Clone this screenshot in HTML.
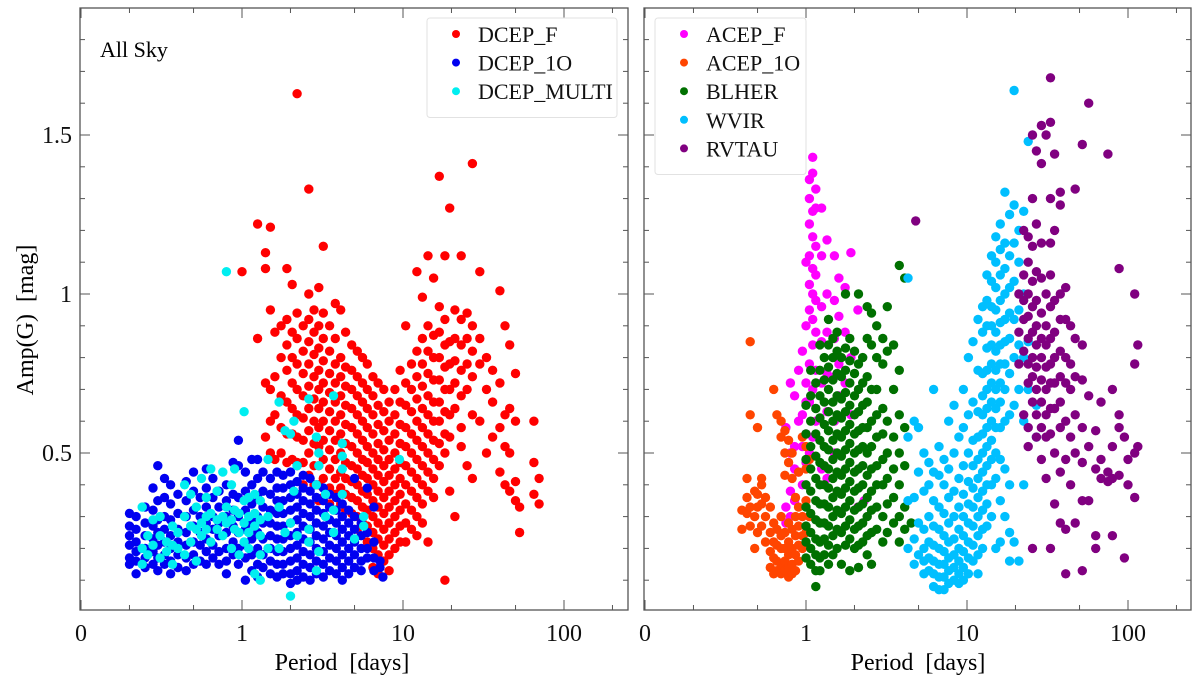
<!DOCTYPE html>
<html><head><meta charset="utf-8"><style>
html,body{margin:0;padding:0;background:#fff;}
svg{display:block;font-family:"Liberation Serif",serif;}
text{white-space:pre;}
</style></head><body>
<svg id="chart" width="1200" height="680" viewBox="0 0 1200 680">
  <rect x="0" y="0" width="1200" height="680" fill="#fff"/>
  <g id="leftPanel"></g>
  <g id="rightPanel"></g>
  <text x="100" y="57" font-size="22">All Sky</text>
  <text transform="translate(33,320) rotate(-90)" text-anchor="middle" font-size="24">Amp(G)  [mag]</text>
  <text x="342" y="670" text-anchor="middle" font-size="24">Period  [days]</text>
  <text x="918" y="670" text-anchor="middle" font-size="24">Period  [days]</text>
</svg>
<script>
// ---- data: columns of [period, [amplitudes...]] ----
const xTickValues = [0.1, 1, 10, 100];
const xTickLabels = ["0", "1", "10", "100"];
const yTickValues = [0.5, 1, 1.5];
const yTickLabels = ["0.5", "1", "1.5"];

const dcepF = [[1.0,[1.07]],[1.25,[1.22,0.86]],[1.4,[1.13,1.08,0.72,0.55]],[1.5,[1.21,0.95,0.7,0.6,0.5]],[1.6,[0.88,0.74,0.62,0.48]],[1.75,[0.9,0.8,0.68,0.58,0.5]],[1.9,[1.08,0.92,0.84,0.76,0.66,0.56,0.47]],[2.05,[1.03,0.88,0.8,0.72,0.64,0.56,0.48]],[2.2,[1.63,0.94,0.86,0.78,0.7,0.62,0.55,0.47]],[2.4,[0.9,0.82,0.75,0.68,0.61,0.54,0.47,0.4]],[2.6,[1.33,1.0,0.92,0.85,0.78,0.71,0.64,0.57,0.5,0.43]],[2.8,[0.95,0.88,0.81,0.74,0.67,0.6,0.53,0.46,0.4]],[3.0,[1.02,0.9,0.83,0.76,0.7,0.64,0.58,0.52,0.46,0.4,0.35]],[3.2,[1.15,0.94,0.86,0.79,0.72,0.66,0.6,0.54,0.48,0.42,0.36]],[3.5,[0.9,0.82,0.75,0.69,0.63,0.57,0.51,0.45,0.39,0.34]],[3.8,[0.97,0.86,0.78,0.72,0.66,0.6,0.54,0.48,0.42,0.37,0.32]],[4.1,[0.95,0.8,0.74,0.68,0.62,0.56,0.5,0.44,0.39,0.34]],[4.4,[0.88,0.77,0.71,0.65,0.59,0.53,0.47,0.42,0.37,0.32]],[4.8,[0.84,0.76,0.7,0.64,0.58,0.52,0.46,0.41,0.36,0.31]],[5.2,[0.82,0.74,0.68,0.62,0.56,0.5,0.45,0.4,0.35,0.3,0.26]],[5.6,[0.8,0.72,0.66,0.6,0.54,0.48,0.43,0.38,0.33,0.28]],[6.0,[0.78,0.7,0.64,0.58,0.52,0.47,0.42,0.37,0.32,0.27,0.22]],[6.5,[0.74,0.68,0.62,0.56,0.5,0.45,0.4,0.35,0.3,0.25,0.2,0.14]],[7.0,[0.72,0.65,0.59,0.53,0.48,0.43,0.38,0.33,0.28,0.23,0.18,0.12]],[7.6,[0.7,0.63,0.57,0.51,0.46,0.41,0.36,0.31,0.26,0.21,0.16]],[8.2,[0.66,0.6,0.54,0.48,0.43,0.38,0.33,0.28,0.23,0.18,0.13]],[8.9,[0.7,0.62,0.56,0.5,0.45,0.4,0.35,0.3,0.25,0.2]],[9.6,[0.76,0.66,0.59,0.53,0.47,0.42,0.37,0.32,0.27,0.22]],[10.4,[0.9,0.72,0.65,0.58,0.52,0.46,0.4,0.34,0.28,0.22]],[11.3,[0.78,0.7,0.63,0.56,0.5,0.44,0.38,0.32,0.26]],[12.2,[1.07,0.82,0.74,0.67,0.6,0.54,0.48,0.42,0.36,0.3,0.24]],[13.2,[0.99,0.86,0.78,0.71,0.64,0.58,0.52,0.46,0.4,0.34,0.28]],[14.3,[1.12,0.9,0.82,0.75,0.68,0.62,0.56,0.5,0.44,0.38,0.22]],[15.5,[1.05,0.87,0.8,0.73,0.66,0.6,0.54,0.48,0.42,0.36]],[16.8,[1.37,0.96,0.88,0.8,0.73,0.66,0.6,0.53,0.46]],[18.2,[1.12,0.92,0.84,0.77,0.7,0.63,0.56,0.5,0.1]],[19.5,[1.27,0.85,0.78,0.7,0.62,0.55,0.38]],[21,[0.95,0.86,0.79,0.72,0.64,0.3]],[23,[1.12,0.92,0.84,0.76,0.68,0.58,0.52]],[25,[0.94,0.86,0.78,0.7,0.46]],[27,[1.41,0.9,0.82,0.74,0.62,0.42]],[30,[1.07,0.86,0.78,0.6]],[33,[0.8,0.7,0.5]],[36,[0.76,0.66,0.55]],[40,[1.01,0.72,0.58,0.44]],[43,[0.9,0.62,0.52,0.4]],[46,[0.84,0.64,0.5,0.38]],[50,[0.75,0.6,0.41,0.35]],[53,[0.33,0.25]],[65,[0.6,0.47,0.37]],[70,[0.42,0.34]]];

const dcep1O = [[0.2,[0.31,0.27,0.24,0.21,0.17,0.15]],[0.22,[0.3,0.26,0.22,0.19,0.16,0.12]],[0.25,[0.33,0.28,0.24,0.2,0.17,0.14]],[0.28,[0.39,0.32,0.27,0.23,0.19,0.15]],[0.3,[0.46,0.35,0.29,0.25,0.21,0.17,0.13]],[0.33,[0.42,0.36,0.3,0.26,0.22,0.18,0.15]],[0.36,[0.4,0.34,0.29,0.24,0.2,0.16,0.12]],[0.4,[0.37,0.31,0.26,0.22,0.18,0.14]],[0.45,[0.41,0.35,0.3,0.25,0.21,0.17,0.13]],[0.5,[0.44,0.38,0.32,0.27,0.22,0.18,0.15]],[0.55,[0.36,0.3,0.25,0.21,0.16]],[0.6,[0.45,0.39,0.33,0.28,0.23,0.19,0.15]],[0.66,[0.42,0.36,0.3,0.26,0.21,0.17]],[0.72,[0.38,0.33,0.28,0.24,0.19,0.15]],[0.8,[0.4,0.35,0.3,0.25,0.2,0.16,0.12]],[0.88,[0.47,0.37,0.32,0.27,0.22,0.18]],[0.95,[0.54,0.46,0.36,0.3,0.25,0.2,0.15]],[1.05,[0.44,0.38,0.32,0.26,0.21,0.17,0.1]],[1.15,[0.48,0.4,0.34,0.28,0.23,0.18,0.13]],[1.25,[0.48,0.42,0.36,0.3,0.25,0.2,0.15,0.11]],[1.35,[0.44,0.38,0.33,0.28,0.23,0.18,0.14]],[1.5,[0.42,0.37,0.32,0.28,0.24,0.2,0.16,0.12]],[1.65,[0.44,0.39,0.35,0.31,0.27,0.23,0.19,0.15,0.11]],[1.8,[0.43,0.39,0.35,0.31,0.27,0.23,0.19,0.15,0.12]],[2.0,[0.44,0.4,0.36,0.32,0.28,0.24,0.2,0.16,0.12,0.09]],[2.2,[0.46,0.41,0.37,0.33,0.29,0.25,0.21,0.17,0.13,0.1]],[2.4,[0.43,0.39,0.35,0.31,0.27,0.23,0.19,0.15,0.11]],[2.65,[0.42,0.38,0.34,0.3,0.26,0.22,0.18,0.14,0.1]],[2.9,[0.4,0.36,0.32,0.28,0.24,0.2,0.16,0.12]],[3.2,[0.39,0.35,0.31,0.27,0.23,0.19,0.15,0.11]],[3.5,[0.37,0.33,0.29,0.25,0.21,0.17,0.13]],[3.85,[0.36,0.32,0.28,0.24,0.2,0.16,0.12]],[4.2,[0.34,0.3,0.26,0.22,0.18,0.14,0.1]],[4.6,[0.32,0.28,0.24,0.2,0.16,0.12]],[5.0,[0.42,0.3,0.26,0.22,0.18,0.14]],[5.5,[0.28,0.24,0.2,0.16,0.13]],[6.0,[0.39,0.25,0.2,0.17]],[6.6,[0.33,0.22,0.17,0.13]],[7.2,[0.16,0.14]],[7.5,[0.11]]];

const dcepMulti = [[0.24,[0.33,0.2,0.15]],[0.26,[0.24,0.18]],[0.28,[0.29,0.21]],[0.31,[0.3,0.24,0.17]],[0.34,[0.22,0.19]],[0.37,[0.27,0.21,0.15]],[0.4,[0.25,0.2]],[0.44,[0.4,0.3,0.18]],[0.48,[0.37,0.27,0.22]],[0.52,[0.33,0.26,0.16]],[0.56,[0.42,0.28,0.24]],[0.6,[0.36,0.3,0.26]],[0.64,[0.45,0.31,0.22]],[0.7,[0.38,0.29,0.26]],[0.76,[0.44,0.3,0.24]],[0.8,[1.07,0.33,0.28]],[0.86,[0.4,0.29,0.2]],[0.9,[0.45,0.32,0.26]],[0.96,[0.31,0.25,0.18]],[1.03,[0.63,0.35,0.28,0.22]],[1.1,[0.36,0.3,0.25,0.2]],[1.2,[0.37,0.31,0.27,0.12]],[1.3,[0.35,0.29,0.24,0.18,0.1]],[1.45,[0.48,0.3,0.2]],[1.7,[0.66,0.33,0.2]],[1.85,[0.57,0.25]],[2.0,[0.56,0.28,0.05]],[2.1,[0.6,0.38]],[2.2,[0.46,0.24]],[2.6,[0.67,0.26,0.22]],[2.9,[0.55,0.4,0.13]],[3.0,[0.5,0.46,0.19]],[3.3,[0.37,0.3]],[3.7,[0.68,0.32,0.25]],[4.2,[0.53,0.49,0.45,0.37]],[5.0,[0.23]],[5.7,[0.3,0.27]],[9.5,[0.48]]];

const acepF = [[0.75,[0.58,0.33,0.28]],[0.8,[0.72,0.5,0.38,0.3]],[0.85,[0.68,0.52,0.45,0.35]],[0.9,[0.76,0.6,0.44]],[0.95,[0.82,0.62,0.52,0.4]],[1.0,[1.1,0.9,0.72,0.66,0.56,0.47]],[1.05,[1.36,1.3,1.22,1.12,1.03,0.95,0.78,0.66,0.5]],[1.1,[1.43,1.38,1.26,1.18,1.08,1.0,0.92,0.84,0.7,0.55]],[1.15,[1.33,1.27,1.15,1.06,0.98,0.88,0.76,0.6]],[1.25,[1.27,1.12,0.96,0.85,0.72,0.45]],[1.35,[1.17,1.0,0.88,0.75,0.63,0.42]],[1.5,[1.12,0.98,0.86,0.74,0.6,0.5]],[1.6,[1.05,0.93,0.78,0.68]],[1.75,[1.02,0.88,0.72]],[1.9,[1.13,0.8,0.62]],[2.1,[0.95,0.33]],[2.3,[0.35]]];

const acep1O = [[0.4,[0.32,0.26]],[0.43,[0.42,0.36,0.31]],[0.45,[0.85,0.62,0.33,0.27]],[0.48,[0.38,0.3,0.2]],[0.5,[0.58,0.37,0.33,0.25]],[0.53,[0.42,0.4,0.34,0.27]],[0.56,[0.36,0.3,0.22]],[0.6,[0.33,0.25,0.19,0.14]],[0.63,[0.7,0.28,0.22,0.17,0.12]],[0.66,[0.62,0.26,0.21,0.16,0.13]],[0.7,[0.6,0.55,0.3,0.24,0.2,0.15,0.12]],[0.74,[0.57,0.5,0.43,0.25,0.2,0.16,0.13]],[0.78,[0.54,0.47,0.28,0.22,0.18,0.14,0.11]],[0.82,[0.5,0.42,0.26,0.2,0.15,0.12]],[0.86,[0.36,0.3,0.24,0.18,0.13]],[0.9,[0.44,0.33,0.27,0.21,0.16]],[0.95,[0.55,0.3,0.24,0.2]],[1.0,[0.52,0.45,0.35,0.25]],[1.05,[0.48,0.3]]];

const blher = [[1.0,[0.65,0.56,0.48,0.4,0.33,0.27,0.22,0.17]],[1.07,[0.76,0.68,0.6,0.52,0.45,0.38,0.31,0.25,0.2,0.15]],[1.15,[0.72,0.64,0.56,0.49,0.42,0.35,0.29,0.23,0.18,0.13,0.08]],[1.22,[0.84,0.76,0.68,0.61,0.54,0.47,0.4,0.34,0.28,0.22,0.17,0.13]],[1.3,[0.8,0.73,0.66,0.59,0.52,0.46,0.4,0.34,0.28,0.23,0.18]],[1.38,[0.92,0.84,0.77,0.7,0.63,0.57,0.51,0.45,0.39,0.33,0.27,0.21,0.15]],[1.47,[0.86,0.8,0.73,0.66,0.6,0.54,0.48,0.42,0.36,0.3,0.24,0.18]],[1.56,[0.88,0.82,0.75,0.68,0.62,0.56,0.5,0.44,0.38,0.32,0.26,0.2]],[1.66,[0.8,0.74,0.67,0.61,0.55,0.49,0.43,0.37,0.31,0.25,0.15]],[1.76,[1.0,0.83,0.76,0.69,0.63,0.57,0.51,0.45,0.39,0.33,0.27,0.21]],[1.87,[0.86,0.79,0.72,0.65,0.59,0.53,0.47,0.41,0.35,0.29,0.23,0.13]],[2.0,[0.82,0.75,0.68,0.62,0.56,0.5,0.44,0.38,0.32,0.26,0.2]],[2.12,[1.0,0.78,0.7,0.63,0.57,0.51,0.45,0.39,0.33,0.27,0.21,0.14]],[2.25,[0.8,0.72,0.65,0.58,0.52,0.46,0.4,0.34,0.28,0.22]],[2.4,[0.96,0.86,0.74,0.66,0.58,0.5,0.43,0.36,0.3,0.24,0.18]],[2.55,[0.94,0.84,0.7,0.6,0.52,0.45,0.38,0.32,0.25,0.15]],[2.75,[0.9,0.8,0.7,0.62,0.55,0.46,0.4,0.33,0.26]],[3.0,[0.86,0.78,0.64,0.56,0.48,0.4,0.3,0.22]],[3.2,[0.96,0.82,0.6,0.5,0.42,0.34,0.25]],[3.5,[0.84,0.7,0.55,0.45,0.36,0.28]],[3.8,[1.09,0.76,0.62,0.5,0.4,0.3,0.22]],[4.1,[1.05,0.58,0.46,0.33,0.26]],[4.5,[0.28]]];

const wvir = [[4.3,[1.05,0.55,0.35,0.2]],[4.7,[0.6,0.36,0.23,0.15]],[5.0,[0.58,0.44,0.28,0.18]],[5.4,[0.5,0.38,0.26,0.2,0.16,0.12]],[5.8,[0.47,0.4,0.3,0.22,0.17,0.13]],[6.2,[0.7,0.44,0.35,0.27,0.21,0.16,0.12,0.08]],[6.7,[0.52,0.43,0.33,0.26,0.2,0.15,0.11,0.07]],[7.2,[0.48,0.4,0.31,0.24,0.19,0.15,0.11,0.07]],[7.7,[0.6,0.45,0.36,0.28,0.22,0.17,0.13,0.09]],[8.3,[0.65,0.5,0.38,0.3,0.23,0.18,0.14,0.1]],[8.9,[0.55,0.42,0.33,0.26,0.2,0.16,0.12,0.09]],[9.5,[0.7,0.58,0.46,0.37,0.3,0.24,0.19,0.14,0.1]],[10.2,[0.8,0.62,0.5,0.41,0.34,0.28,0.22,0.17,0.12]],[10.9,[0.85,0.66,0.54,0.46,0.39,0.33,0.27,0.21,0.16]],[11.7,[0.92,0.76,0.63,0.55,0.48,0.42,0.36,0.3,0.24,0.18,0.12]],[12.5,[0.96,0.88,0.75,0.68,0.62,0.56,0.5,0.44,0.38,0.32,0.26,0.2]],[13.3,[1.06,0.98,0.9,0.83,0.76,0.7,0.64,0.58,0.52,0.46,0.4,0.34,0.27]],[14.2,[1.12,1.04,0.96,0.9,0.84,0.78,0.72,0.66,0.6,0.54,0.48,0.4,0.3]],[15.1,[1.18,1.1,1.02,0.95,0.88,0.82,0.76,0.7,0.64,0.58,0.5,0.42,0.2]],[16.1,[1.22,1.14,1.06,0.98,0.91,0.84,0.78,0.72,0.66,0.58,0.48,0.35,0.22]],[17.2,[1.32,1.16,1.08,1.0,0.92,0.85,0.78,0.7,0.6,0.45,0.3]],[18.4,[1.25,1.12,1.02,0.94,0.86,0.75,0.62,0.4,0.25,0.16]],[19.6,[1.64,1.28,1.16,1.04,0.92,0.8,0.65,0.22]],[21,[1.2,1.1,0.95,0.84,0.7,0.16]],[22.5,[1.26,1.0,0.8,0.6,0.4]],[24,[1.48,0.85,0.7]],[27,[0.65,0.55]]];

const rvtau = [[4.8,[1.23]],[21,[1.0,0.88,0.78]],[22.5,[1.2,1.06,0.98,0.92,0.82,0.62]],[24,[1.18,1.1,1.0,0.93,0.86,0.78,0.72,0.58,0.52]],[25.5,[1.5,1.3,1.15,1.04,0.96,0.88,0.8,0.74,0.66,0.2]],[27,[1.45,1.22,1.07,0.98,0.9,0.84,0.77,0.7,0.62,0.55]],[29,[1.53,1.41,1.16,1.05,0.94,0.86,0.8,0.73,0.66,0.58,0.48]],[31,[1.5,1.0,0.9,0.84,0.77,0.7,0.62,0.55,0.42]],[33,[1.68,1.54,1.3,1.16,1.06,0.96,0.86,0.78,0.72,0.64,0.56,0.2]],[35,[1.44,1.2,0.98,0.88,0.8,0.72,0.64,0.5,0.34]],[38,[1.32,1.28,1.0,0.92,0.82,0.74,0.66,0.58,0.44,0.28]],[41,[1.02,0.92,0.8,0.72,0.6,0.48,0.26,0.12]],[44,[0.9,0.78,0.7,0.55,0.4]],[47,[1.33,0.86,0.74,0.62,0.5,0.28]],[52,[1.47,0.84,0.73,0.58,0.47,0.35,0.13]],[57,[1.6,0.68,0.52,0.35]],[63,[0.57,0.45,0.24,0.2]],[68,[0.66,0.48,0.42]],[75,[1.44,0.44,0.41]],[80,[0.7,0.52,0.42,0.24]],[88,[1.08,0.62,0.58,0.43]],[95,[0.55,0.17]],[100,[0.48,0.4]],[110,[1.0,0.78,0.36,0.5]],[115,[0.84,0.52]]];

const leftSeriesNames = ["DCEP_F", "DCEP_1O", "DCEP_MULTI"];
const leftSeriesColors = ["#ff0000", "#0000f0", "#00eef0"];
const rightSeriesNames = ["ACEP_F", "ACEP_1O", "BLHER", "WVIR", "RVTAU"];
const rightSeriesColors = ["#ff00ff", "#ff4500", "#007000", "#00bfff", "#800080"];

const NS = "http://www.w3.org/2000/svg";
function mk(tag, attrs, parent) {
  const e = document.createElementNS(NS, tag);
  for (const k in attrs) e.setAttribute(k, attrs[k]);
  parent.appendChild(e);
  return e;
}

const Y_TOP = 8, Y_BOT = 610;
function yScale(a) { return 453 - (a - 0.5) * 318; }
function makeX(x0) { return function (p) { return x0 + Math.log10(p / 0.1) * 161; }; }

function drawFrame(g, left, right, xs, showYLabels, side) {
  const frame = mk('rect', {x: left, y: Y_TOP, width: right - left, height: Y_BOT - Y_TOP, fill: 'none', stroke: '#555', 'stroke-width': 1.3}, g);
  
  
  for (let v = 0.1; v < 1.9; v += 0.1) {
    const vv = Math.round(v * 10) / 10;
    const y = yScale(vv);
    const major = yTickValues.includes(vv);
    const len = major ? 10 : 5;
    mk('line', {x1: left, x2: left + len, y1: y, y2: y, stroke: '#555', 'stroke-width': 1}, g);
    mk('line', {x1: right, x2: right - len, y1: y, y2: y, stroke: '#555', 'stroke-width': 1}, g);
  }
  if (showYLabels) {
    yTickValues.forEach((v, i) => {
      const t = mk('text', {x: left - 8, y: yScale(v) + 8, 'text-anchor': 'end', 'font-size': 24, fill: '#111'}, g);
      t.textContent = yTickLabels[i];
      
      
    });
  }
  const minors = [0.2, 0.5, 2, 5, 20, 50, 200];
  minors.forEach(p => {
    const x = xs(p);
    if (x >= right) return;
    mk('line', {x1: x, x2: x, y1: Y_BOT, y2: Y_BOT - 5, stroke: '#555'}, g);
    mk('line', {x1: x, x2: x, y1: Y_TOP, y2: Y_TOP + 5, stroke: '#555'}, g);
  });
  xTickValues.forEach((p, i) => {
    const x = xs(p);
    mk('line', {x1: x, x2: x, y1: Y_BOT, y2: Y_BOT - 10, stroke: '#555'}, g);
    mk('line', {x1: x, x2: x, y1: Y_TOP, y2: Y_TOP + 10, stroke: '#555'}, g);
    const t = mk('text', {x: x, y: 641, 'text-anchor': 'middle', 'font-size': 24, fill: '#111'}, g);
    t.textContent = xTickLabels[i];
    
    
  });
}

function drawSeries(g, data, color, xs, name) {
  const sg = mk('g', {fill: color}, g);
  
  
  data.forEach(col => {
    const p = col[0];
    col[1].forEach(a => {
      const c = mk('circle', {cx: xs(p).toFixed(1), cy: yScale(a).toFixed(1), r: 4.7}, sg);
      
      
    });
  });
}

function drawLegend(g, x, y, w, names, colors, side) {
  const h = 14 + names.length * 28.5;
  const box = mk('rect', {x: x, y: y, width: w, height: h, rx: 3, fill: '#fff', stroke: '#e2e2e2', 'stroke-width': 1}, g);
  
  
  names.forEach((n, i) => {
    const cy = y + 16 + i * 28.6;
    const c = mk('circle', {cx: x + 29, cy: cy, r: 4, fill: colors[i]}, g);
    
    
    const t = mk('text', {x: x + 51, y: cy + 8, 'font-size': 22, fill: '#111'}, g);
    t.textContent = n;
    
    
  });
}

const lg = document.getElementById('leftPanel');
const rg = document.getElementById('rightPanel');
const xL = makeX(81), xR = makeX(645);

const clipL = mk('clipPath', {id: 'cL'}, lg); mk('rect', {x: 81, y: Y_TOP, width: 547, height: Y_BOT - Y_TOP}, clipL);
const clipR = mk('clipPath', {id: 'cR'}, rg); mk('rect', {x: 644, y: Y_TOP, width: 547, height: Y_BOT - Y_TOP}, clipR);

const lp = mk('g', {'clip-path': 'url(#cL)'}, lg);
drawSeries(lp, dcepF, leftSeriesColors[0], xL, leftSeriesNames[0]);
drawSeries(lp, dcep1O, leftSeriesColors[1], xL, leftSeriesNames[1]);
drawSeries(lp, dcepMulti, leftSeriesColors[2], xL, leftSeriesNames[2]);
drawFrame(lg, 80, 628, xL, true, 'left');
drawLegend(lg, 427, 18, 190, leftSeriesNames, leftSeriesColors, 'left');

const rp = mk('g', {'clip-path': 'url(#cR)'}, rg);
drawSeries(rp, acepF, rightSeriesColors[0], xR, rightSeriesNames[0]);
drawSeries(rp, acep1O, rightSeriesColors[1], xR, rightSeriesNames[1]);
drawSeries(rp, blher, rightSeriesColors[2], xR, rightSeriesNames[2]);
drawSeries(rp, wvir, rightSeriesColors[3], xR, rightSeriesNames[3]);
drawSeries(rp, rvtau, rightSeriesColors[4], xR, rightSeriesNames[4]);
drawFrame(rg, 644, 1191, xR, false, 'right');
drawLegend(rg, 655, 18, 151, rightSeriesNames, rightSeriesColors, 'right');
</script>
</body></html>
